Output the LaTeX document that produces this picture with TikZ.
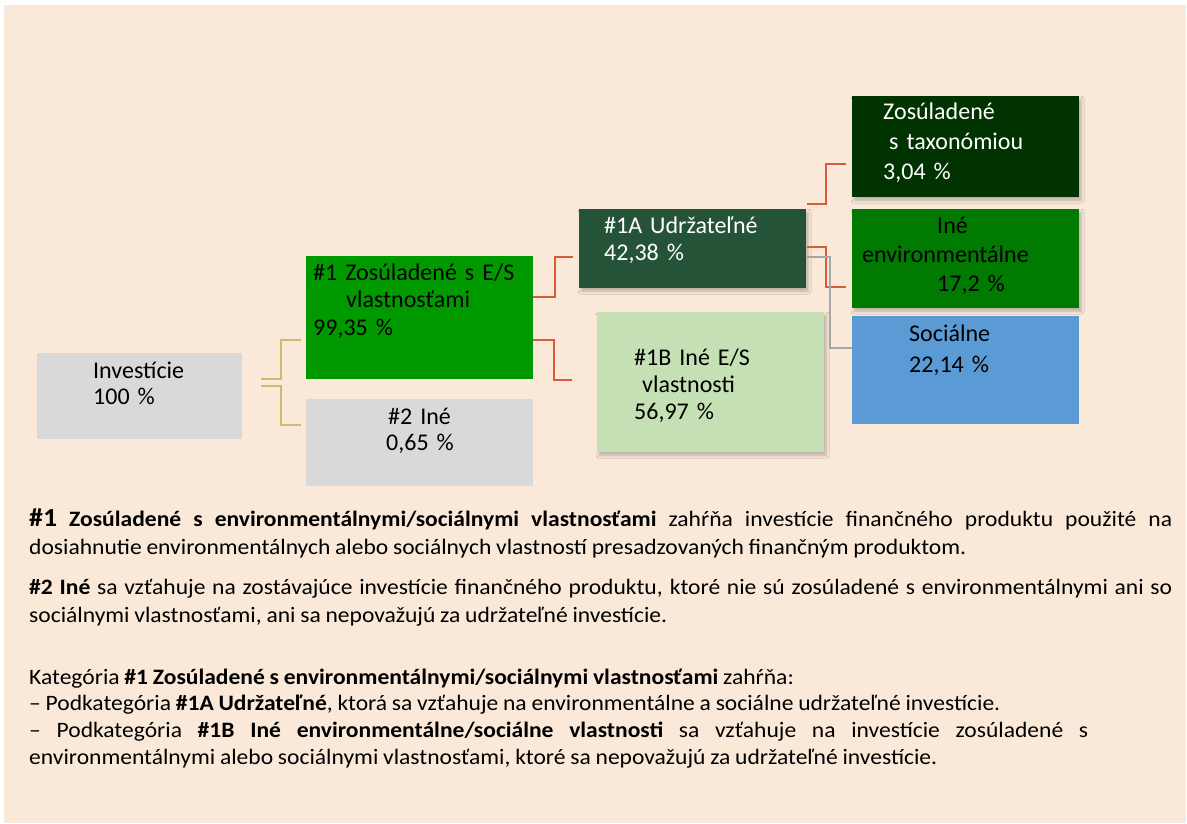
\documentclass[tikz,border=0pt]{standalone}
\usepackage{fontspec}
\setmainfont{Carlito}
\newfontfamily\bodyfont{Carlito}[FakeStretch=1.07, WordSpace={0.9,1.2,1.4}]
\usepackage{xcolor}
\usetikzlibrary{calc,shadows.blur}
\definecolor{sand}{HTML}{FAE9D9}
\definecolor{boxgray}{HTML}{D9D9D9}
\definecolor{esgreen}{HTML}{009A00}
\definecolor{sustgreen}{HTML}{255338}
\definecolor{otherlight}{HTML}{C5E0B4}
\definecolor{taxgreen}{HTML}{003300}
\definecolor{envgreen}{HTML}{007A00}
\definecolor{socblue}{HTML}{5B9BD5}
\definecolor{linered}{HTML}{D95B3B}
\definecolor{linetan}{HTML}{C9BD6E}
\definecolor{linegray}{HTML}{A6A6A6}
\tikzset{
	box/.style={rectangle, inner sep=0pt, anchor=north west, minimum width=227pt},
	shadowed/.style={blur shadow={shadow xshift=2pt, shadow yshift=-3pt, shadow blur radius=3pt, shadow opacity=25}},
	boxtext/.style={anchor=base west, inner sep=0pt, text width=215pt, align=left, font=\fontsize{24}{#1}\selectfont},
	bodytext/.style={anchor=base west, inner sep=0pt, align=justify, font=\bodyfont\fontsize{22}{#1}\selectfont},
	redline/.style={linered, line width=1.8pt},
	tanline/.style={linetan, line width=1.8pt},
	grayline/.style={linegray, line width=1.8pt}
}

\begin{document}
\begin{tikzpicture}[x=1pt,y=-1pt]
	% Page and background
	\useasboundingbox (0,0) rectangle (1187,823);
	\fill[white] (0,0) rectangle (1187,823);
	\fill[sand] (4,5) rectangle (1186,823);
	
	% Boxes of the tree
	\node[box, fill=boxgray, minimum width=205pt, minimum height=86pt] (inv) at (37,353) {};
	\node[box, fill=esgreen, minimum height=123pt] (al) at (306,256) {};
	\node[box, fill=boxgray, minimum height=87pt] (other) at (306,399) {};
	\node[box, fill=sustgreen, minimum height=79pt, shadowed] (s1a) at (579,209) {};
	\node[box, fill=otherlight, minimum height=140pt, shadowed] (s1b) at (597,312) {};
	\node[box, fill=taxgreen, minimum height=101pt, shadowed] (tax) at (852,96) {};
	\node[box, fill=envgreen, minimum height=99pt, shadowed] (env) at (852,209) {};
	\node[box, fill=socblue, minimum height=108pt] (soc) at (852,316) {};
	
	% Label the boxes
	\node[boxtext=26pt] (invlbl) at (93,378) {Investície\\100~\%};
	\node[boxtext=27.5pt] (allbl) at (313,280) {\#1 Zosúladené s E/S\\\hspace*{33pt}vlastnosťami\\99,35~\%};
	\node[boxtext=26pt] (otherlbl) at (386,424) {\hspace*{2pt}\#2 Iné\\0,65~\%};
	\node[boxtext=27pt, text=white] (s1albl) at (604,233) {\#1A Udržateľné\\42,38~\%};
	\node[boxtext=27pt] (s1blbl) at (634,365) {\#1B Iné E/S\\\hspace*{8pt}vlastnosti\\56,97~\%};
	\node[boxtext=30pt, text=white] (taxlbl) at (883,119) {Zosúladené\\\hspace*{6pt}s taxonómiou\\3,04~\%};
	\node[boxtext=29pt] (envlbl) at (862,233) {\hspace*{75pt}Iné\\environmentálne\\\hspace*{75pt}17,2~\%};
	\node[boxtext=31pt] (soclbl) at (909,341) {Sociálne\\22,14~\%};
	
	% Connectors
	\draw[tanline] ([shift={(19,-17)}]inv.east) -| ([shift={(-25,22.5)}]al.west) -- ([shift={(-5,22.5)}]al.west);
	\draw[tanline] ([shift={(19,-10)}]inv.east) -| ([shift={(-25,-17.5)}]other.west) -- ([shift={(-5,-17.5)}]other.west);
	\draw[redline] ([yshift=20.5pt]al.east) -| ([shift={(-24,8.5)}]s1a.west) -- ([shift={(-6,8.5)}]s1a.west);
	\draw[redline] ([yshift=-22.5pt]al.east) -| ([shift={(-43,-2)}]s1b.west) -- ([shift={(-25,-2)}]s1b.west);
	\draw[redline] ([shift={(1,-44.5)}]s1a.east) -| ([shift={(-26,17.5)}]tax.west) -- ([shift={(-6,17.5)}]tax.west);
	\draw[redline] ([shift={(1,-1.5)}]s1a.east) -| ([shift={(-26,28.5)}]env.west) -- ([shift={(-6,28.5)}]env.west);
	\draw[grayline] ([shift={(1,8.5)}]s1a.east) -| ([shift={(-22,-22)}]soc.west) -- ([yshift=22pt]soc.west);
	
	% Explanation below the tree
	\node[bodytext=28pt, text width=1143pt] (def1) at (29,526) {{\bfseries{\fontsize{26}{28}\selectfont\#1} Zosúladené s environmentálnymi/sociálnymi vlastnosťami} zahŕňa investície finančného produktu použité na\linebreak dosiahnutie environmentálnych alebo sociálnych vlastností presadzovaných finančným produktom.};
	\node[bodytext=28pt, text width=1143pt] (def2) at (29,594) {{\bfseries\#2 Iné} sa vzťahuje na zostávajúce investície finančného produktu, ktoré nie sú zosúladené s environmentálnymi ani so\linebreak sociálnymi vlastnosťami, ani sa nepovažujú za udržateľné investície.};
	\node[bodytext=26.7pt, text width=1059pt] (cat) at (29,684) {Kategória {\bfseries\#1 Zosúladené s environmentálnymi/sociálnymi vlastnosťami} zahŕňa:\\
		– Podkategória {\bfseries\#1A Udržateľné}, ktorá sa vzťahuje na environmentálne a sociálne udržateľné investície.\\
		– Podkategória {\bfseries\#1B Iné environmentálne/sociálne vlastnosti} sa vzťahuje na investície zosúladené s\linebreak environmentálnymi alebo sociálnymi vlastnosťami, ktoré sa nepovažujú za udržateľné investície.};
\end{tikzpicture}
\end{document}
